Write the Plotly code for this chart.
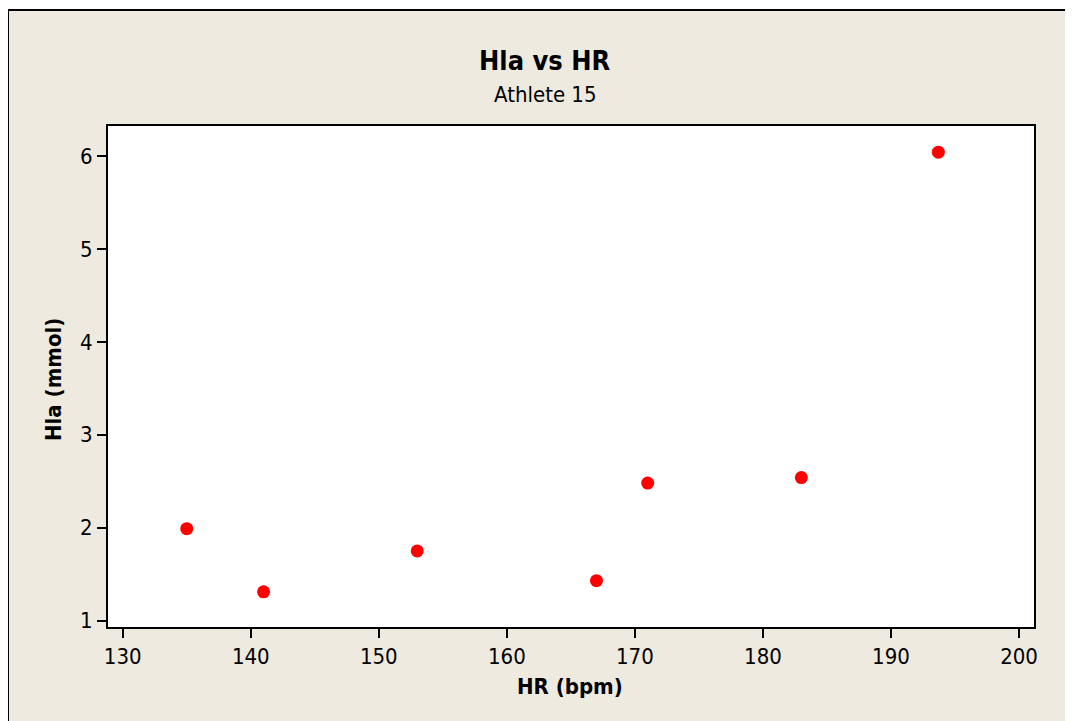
import plotly.graph_objects as go

# Data
hr_bpm = [135, 141, 153, 167, 171, 183, 193.7]
hla_mmol = [1.99, 1.31, 1.75, 1.43, 2.48, 2.54, 6.04]

x_ticks = [130, 140, 150, 160, 170, 180, 190, 200]
y_ticks = [1, 2, 3, 4, 5, 6]

W, H = 1073, 721
OFF = 8  # page body margin offset
# plot area in reference pixels: left 108, right 1034, top 126, bottom 627
L = 108 - OFF
T = 126 - OFF
R = W - (1034 - OFF)
B = H - (627 - OFF)
PW, PH = W - L - R, H - T - B

def px(x):
    return (x - OFF - L) / PW

def py(y):
    return (H - B - (y - OFF)) / PH

FONT = "DejaVu Sans Condensed, DejaVu Sans, sans-serif"
BG = "#EEEAE0"

fig = go.Figure()
fig.add_trace(go.Scatter(
    x=hr_bpm, y=hla_mmol, mode="markers",
    marker=dict(color="#FF0000", size=13, line=dict(width=0)),
    showlegend=False,
))

axis_common = dict(
    showgrid=False, zeroline=False, showline=True, linecolor="black",
    linewidth=2, mirror=True, ticks="outside", ticklen=9, tickwidth=2,
    tickcolor="black", tickfont=dict(family=FONT, size=22, color="black"),
)

fig.update_layout(
    width=W, height=H,
    margin=dict(l=L, r=R, t=T, b=B, pad=0),
    paper_bgcolor=BG, plot_bgcolor="white",
    xaxis=dict(range=[128.85, 201.17], tickvals=x_ticks, **axis_common),
    yaxis=dict(range=[0.932, 6.322], tickvals=y_ticks, **axis_common),
    font=dict(family=FONT, color="black"),
    shapes=[
        dict(type="rect", xref="paper", yref="paper", x0=px(0), x1=px(W + 20),
             y0=py(10), y1=py(-5), fillcolor="white", line=dict(width=0), layer="below"),
        dict(type="line", xref="paper", yref="paper", x0=px(8), x1=px(W + 20),
             y0=py(10), y1=py(10), line=dict(color="black", width=2)),
        dict(type="line", xref="paper", yref="paper", x0=px(8), x1=px(8),
             y0=py(10), y1=py(H + 20), line=dict(color="black", width=2)),
    ],
    annotations=[
        dict(text="<b>Hla vs HR</b>", xref="paper", yref="paper", x=px(545), y=py(61),
             xanchor="center", yanchor="middle", showarrow=False,
             font=dict(family=FONT, size=27, color="black")),
        dict(text="Athlete 15", xref="paper", yref="paper", x=px(545), y=py(94),
             xanchor="center", yanchor="middle", showarrow=False,
             font=dict(family=FONT, size=22, color="black")),
        dict(text="<b>HR (bpm)</b>", xref="paper", yref="paper", x=px(570), y=py(686),
             xanchor="center", yanchor="middle", showarrow=False,
             font=dict(family=FONT, size=22, color="black")),
        dict(text="<b>Hla (mmol)</b>", xref="paper", yref="paper", x=px(53), y=py(380),
             xanchor="center", yanchor="middle", showarrow=False, textangle=-90,
             font=dict(family=FONT, size=22, color="black")),
    ],
)

fig.write_html("out.html")
